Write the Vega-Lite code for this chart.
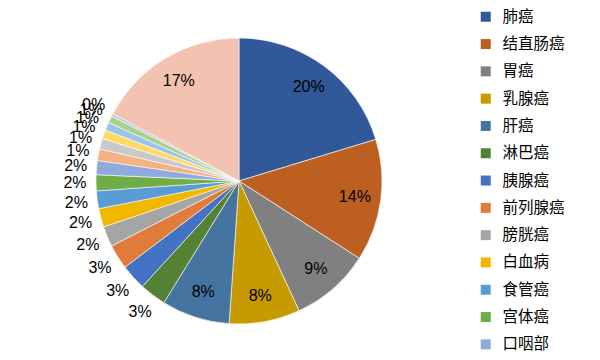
{
  "$schema": "https://vega.github.io/schema/vega-lite/v6.json",
  "width": 478,
  "height": 362,
  "autosize": {"type": "none"},
  "padding": {"left": 0, "top": 0, "right": 122, "bottom": 0},
  "background": "white",
  "config": {"view": {"stroke": null}},
  "data": {"values": [
    {"idx": 1, "name": "肺癌", "v": 0.203},
    {"idx": 2, "name": "结直肠癌", "v": 0.138},
    {"idx": 3, "name": "胃癌", "v": 0.090},
    {"idx": 4, "name": "乳腺癌", "v": 0.080},
    {"idx": 5, "name": "肝癌", "v": 0.077},
    {"idx": 6, "name": "淋巴癌", "v": 0.030},
    {"idx": 7, "name": "胰腺癌", "v": 0.029},
    {"idx": 8, "name": "前列腺癌", "v": 0.028},
    {"idx": 9, "name": "膀胱癌", "v": 0.023},
    {"idx": 10, "name": "白血病", "v": 0.021},
    {"idx": 11, "name": "食管癌", "v": 0.020},
    {"idx": 12, "name": "宫体癌", "v": 0.018},
    {"idx": 13, "name": "口咽部", "v": 0.016},
    {"idx": 14, "name": "肾癌", "v": 0.013},
    {"idx": 15, "name": "脑癌", "v": 0.012},
    {"idx": 16, "name": "卵巢癌", "v": 0.010},
    {"idx": 17, "name": "甲状腺癌", "v": 0.009},
    {"idx": 18, "name": "黑色素瘤", "v": 0.008},
    {"idx": 19, "name": "睾丸癌", "v": 0.003},
    {"idx": 20, "name": "其他", "v": 0.172}
  ]},
  "encoding": {
    "theta": {"field": "v", "type": "quantitative", "stack": true},
    "order": {"field": "idx", "type": "quantitative"},
    "color": {
      "field": "name",
      "type": "nominal",
      "sort": null,
      "scale": {
        "domain": ["肺癌","结直肠癌","胃癌","乳腺癌","肝癌","淋巴癌","胰腺癌","前列腺癌","膀胱癌","白血病","食管癌","宫体癌","口咽部","肾癌","脑癌","卵巢癌","甲状腺癌","黑色素瘤","睾丸癌","其他"],
        "range": ["#31599A","#BE5F22","#808080","#C69A00","#44749F","#548235","#4472C4","#E07B39","#A5A5A5","#F2B800","#5B9BD5","#70AD47","#8FAADC","#F4B183","#C9C9C9","#FFD966","#9DC3E6","#A9D18E","#B4C7E7","#F4C2B0"]
      },
      "legend": {
        "title": null,
        "orient": "right",
        "offset": -9,
        "values": ["肺癌","结直肠癌","胃癌","乳腺癌","肝癌","淋巴癌","胰腺癌","前列腺癌","膀胱癌","白血病","食管癌","宫体癌","口咽部"],
        "symbolType": "square",
        "symbolSize": 100,
        "symbolStrokeWidth": 0,
        "labelFont": "Noto Sans CJK SC",
        "labelFontSize": 15.5,
        "labelColor": "#000000",
        "labelOffset": 9,
        "rowPadding": 10.3,
        "padding": 9
      }
    }
  },
  "layer": [
    {"mark": {"type": "arc", "outerRadius": 143, "stroke": "white", "strokeWidth": 0.6}},
    {
      "mark": {"type": "text", "radius": 117, "font": "Liberation Sans", "fontSize": 16, "color": "#000000"},
      "encoding": {
        "text": {"condition": {"test": "datum.v >= 0.05", "field": "v", "type": "quantitative", "format": ".0%"}, "value": ""},
        "color": {"value": "#000000"}
      }
    },
    {
      "mark": {"type": "text", "radius": 164, "font": "Liberation Sans", "fontSize": 16, "color": "#000000"},
      "encoding": {
        "text": {"condition": {"test": "datum.v < 0.05", "field": "v", "type": "quantitative", "format": ".0%"}, "value": ""},
        "color": {"value": "#000000"}
      }
    }
  ]
}
